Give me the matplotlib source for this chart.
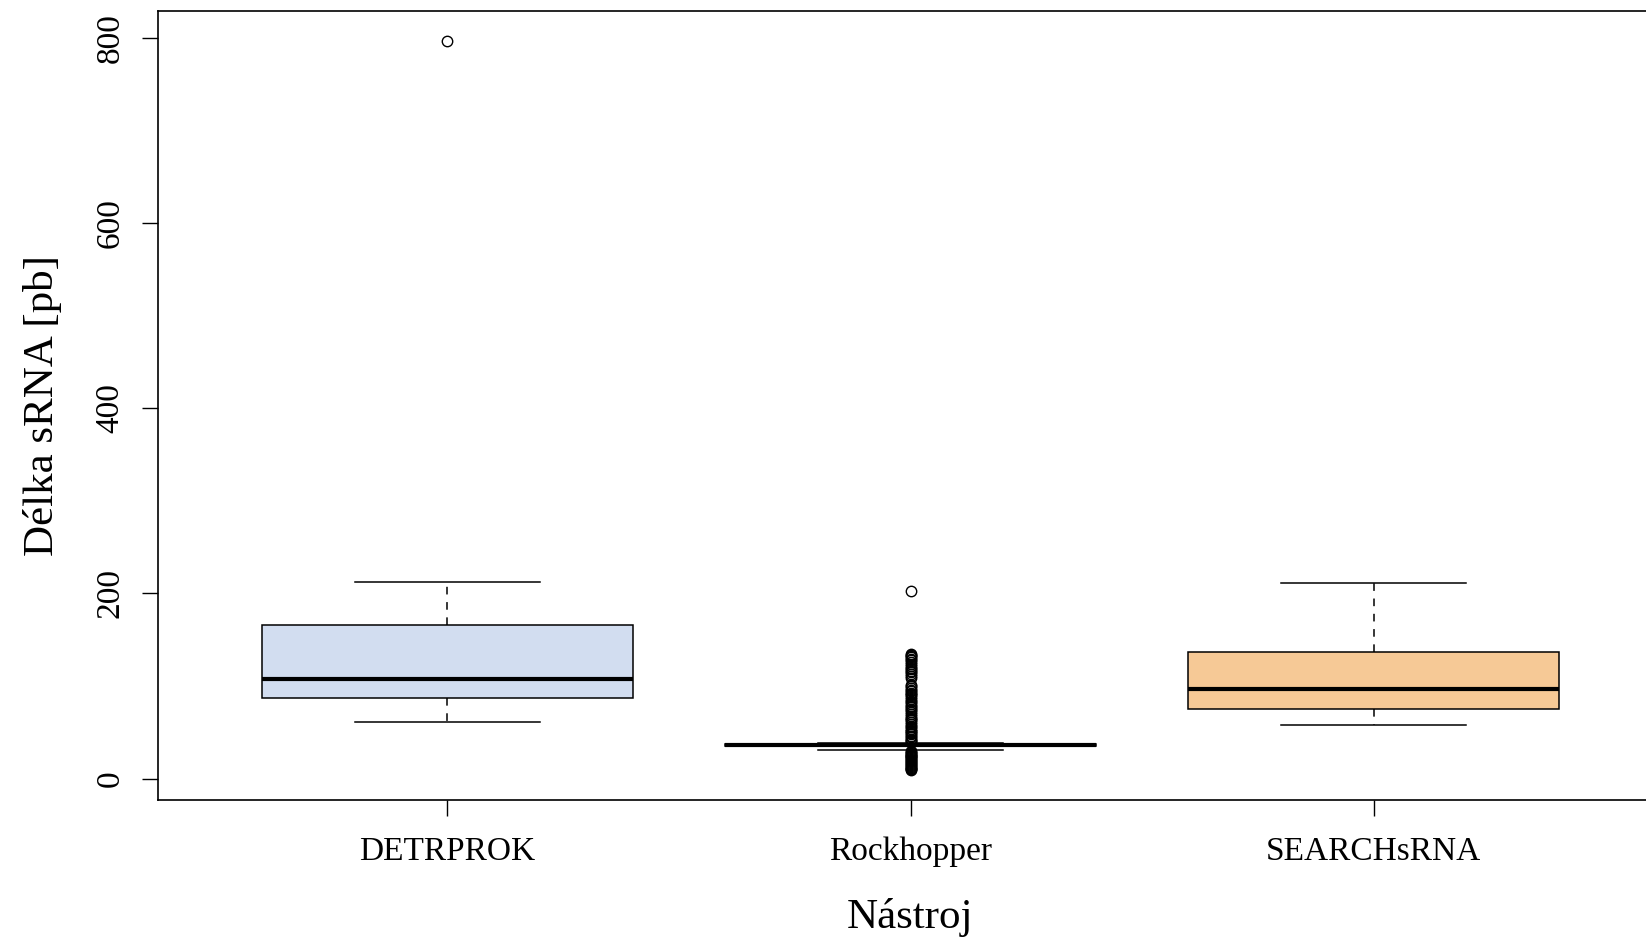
import matplotlib
matplotlib.use("Agg")
import matplotlib.pyplot as plt

plt.rcParams['font.family'] = ['Liberation Serif', 'DejaVu Serif']

tools = ["DETRPROK", "Rockhopper", "SEARCHsRNA"]
fills = ["#D2DDF0", "#FFFFFF", "#F6C996"]

# box statistics (bp)
medians = [108, 36.3, 96.5]
q1 = [86.8, 35.5, 75.3]
q3 = [166, 37.0, 137]
whisk_lo = [61.6, 31, 58]
whisk_hi = [212.4, 39, 211]

fliers_detrprok = [797]
fliers_rockhopper = [203,
                     135, 134, 132, 131, 129, 128, 126, 124, 122, 120, 118,
                     116, 115, 113, 111, 109,
                     101, 100, 98, 96, 95, 93, 91, 90, 88, 86, 84, 83, 81,
                     79, 77, 75, 74, 72, 70, 68, 66, 64, 63, 61, 59, 57,
                     56, 54, 52, 51, 49, 48, 46, 45, 43, 42, 41, 40,
                     30, 29, 28, 27, 26, 25, 24, 23, 22, 21, 20, 19, 18,
                     17, 16, 15, 14, 13, 12, 11, 10, 9]
fliers_search = []
fliers = [fliers_detrprok, fliers_rockhopper, fliers_search]

stats = []
for i in range(3):
    stats.append({"med": medians[i], "q1": q1[i], "q3": q3[i],
                  "whislo": whisk_lo[i], "whishi": whisk_hi[i],
                  "fliers": fliers[i], "label": tools[i]})

fig = plt.figure(figsize=(16.46, 9.43), dpi=100)
W, H = 1646, 943
left, right, top, bottom = 158, 1663, 10.5, 800
ax = fig.add_axes([left / W, 1 - bottom / H, (right - left) / W, (bottom - top) / H])

bp = ax.bxp(stats, positions=[1, 2, 3], widths=0.8, capwidths=0.4,
            patch_artist=True,
            boxprops=dict(linewidth=1.1, edgecolor="black"),
            medianprops=dict(color="black", linewidth=3.0),
            whiskerprops=dict(color="black", linewidth=1.1, linestyle=(0, (5, 5))),
            capprops=dict(color="black", linewidth=1.1),
            flierprops=dict(marker="o", markersize=7.5, markerfacecolor="none",
                            markeredgecolor="black", markeredgewidth=1.0))
for patch, c in zip(bp["boxes"], fills):
    patch.set_facecolor(c)

ax.set_xlim(0.375, 3.625)
ax.set_ylim(-23.0, 829.4)
ax.set_yticks([0, 200, 400, 600, 800])
ax.set_xticks([1, 2, 3])
ax.set_xticklabels(tools)

for s in ax.spines.values():
    s.set_linewidth(1.2)

ax.tick_params(axis="both", length=11.5, width=1.0, labelsize=24)
ax.tick_params(axis="x", pad=15)
ax.tick_params(axis="y", pad=12)
for lab in ax.get_yticklabels():
    lab.set_rotation(90)
    lab.set_va("center")

ax.set_xlabel("Nástroj", fontsize=31, labelpad=22)
ax.set_ylabel("Délka sRNA [pb]", fontsize=31, labelpad=24)

fig.savefig("out.png", dpi=100)
